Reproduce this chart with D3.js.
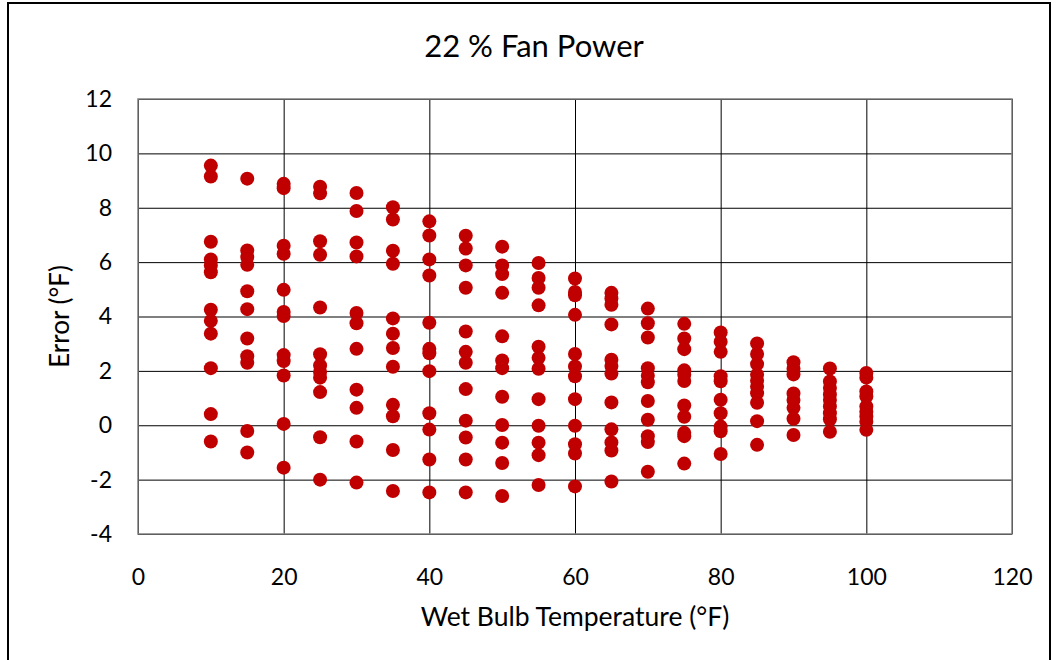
<!DOCTYPE html>
<html><head><meta charset="utf-8">
<script src="https://cdn.jsdelivr.net/npm/d3@7"></script>
<style>
body{margin:0;background:#fff}
text{font-family:Lato,"Open Sans",sans-serif;fill:#000}
</style>
</head><body>
<svg id="chart" width="1058" height="660"></svg>
<script>
const titleText = "22 % Fan Power";
const xLabel = "Wet Bulb Temperature (°F)";
const yLabel = "Error (°F)";
const xTicks = [0,20,40,60,80,100,120];
const yTicks = [-4,-2,0,2,4,6,8,10,12];

const temps = [10,15,20,25,30,35,40,45,50,55,60,65,70,75,80,85,90,95,100];
const err10 = [9.55,9.15,6.75,6.1,5.88,5.63,4.25,3.84,3.37,2.1,0.41,-0.6];
const err15 = [9.07,6.43,6.19,5.9,4.93,4.27,3.19,2.54,2.3,-0.21,-1.0];
const err20 = [8.88,8.72,6.6,6.31,4.98,4.17,4.02,2.58,2.36,1.83,0.05,-1.56];
const err25 = [8.77,8.53,6.77,6.27,4.33,2.61,2.2,1.96,1.75,1.22,-0.44,-2.0];
const err30 = [8.54,7.88,6.72,6.21,4.13,3.75,2.81,1.31,0.64,-0.6,-2.11];
const err35 = [8.02,7.57,6.42,5.94,3.93,3.37,2.84,2.15,0.75,0.33,-0.91,-2.42];
const err40 = [7.5,6.98,6.1,5.51,3.77,2.81,2.65,1.99,0.44,-0.16,-1.26,-2.47];
const err45 = [6.97,6.5,5.88,5.06,3.45,2.7,2.3,1.33,0.17,-0.45,-1.26,-2.47];
const err50 = [6.57,5.88,5.56,4.87,3.27,2.38,2.1,1.05,0.01,-0.64,-1.39,-2.6];
const err55 = [5.97,5.42,5.06,4.41,2.89,2.48,2.08,0.96,-0.02,-0.64,-1.1,-2.2];
const err60 = [5.4,4.9,4.78,4.06,2.62,2.16,1.8,0.96,-0.02,-0.7,-1.04,-2.25];
const err65 = [4.87,4.66,4.43,3.71,2.41,2.18,1.9,0.84,-0.15,-0.63,-0.93,-2.07];
const err70 = [4.29,3.75,3.23,2.1,1.82,1.58,0.89,0.2,-0.4,-0.62,-1.71];
const err75 = [3.73,3.19,2.8,2.02,1.86,1.63,0.73,0.31,-0.28,-0.4,-1.41];
const err80 = [3.41,3.07,2.7,1.8,1.62,0.94,0.44,-0.05,-0.22,-1.06];
const err85 = [3.01,2.62,2.25,1.86,1.64,1.42,1.18,0.83,0.15,-0.72];
const err90 = [2.32,2.08,1.87,1.17,0.93,0.64,0.24,-0.36];
const err95 = [2.09,1.61,1.37,1.13,0.93,0.69,0.44,0.22,-0.24];
const err100 = [1.92,1.75,1.24,1.06,0.69,0.5,0.32,0.13,-0.17];
const errorsByTemp = [err10,err15,err20,err25,err30,err35,err40,err45,err50,err55,err60,err65,err70,err75,err80,err85,err90,err95,err100];

const points = [];
temps.forEach((t,i)=>errorsByTemp[i].forEach(e=>points.push({t,e})));

const svg = d3.select("#chart");
const L=138,R=1012,T=99,B=534;
const x = d3.scaleLinear().domain([0,120]).range([L,R]);
const y = d3.scaleLinear().domain([-4,12]).range([B,T]);
const FONT = "Lato,'Open Sans',sans-serif";

// outer border
svg.append("rect").attr("x",8).attr("y",3).attr("width",1042).attr("height",680)
  .attr("fill","none").attr("stroke","#000").attr("stroke-width",2);

// grid + y labels
const gy = svg.append("g").attr("transform",`translate(${L},0)`)
  .call(d3.axisLeft(y).tickValues(yTicks).tickSize(-(R-L)).tickPadding(26).tickFormat(d=>String(d)));
gy.select(".domain").remove();
gy.selectAll("line").attr("stroke","#000").attr("stroke-width",1);
gy.selectAll("text").attr("font-size",23).style("font-family",FONT).attr("fill","#000");

const gx = svg.append("g").attr("transform",`translate(0,${B})`)
  .call(d3.axisBottom(x).tickValues(xTicks).tickSize(-(B-T)).tickPadding(35).tickFormat(d=>String(d)));
gx.select(".domain").remove();
gx.selectAll("line").attr("stroke","#000").attr("stroke-width",1);
gx.selectAll("text").attr("font-size",23).style("font-family",FONT).attr("fill","#000");

// plot area border
svg.append("rect").attr("x",L).attr("y",T).attr("width",R-L).attr("height",B-T)
  .attr("fill","none").attr("stroke","#7f7f7f").attr("stroke-width",1.5);

// points
svg.append("g").selectAll("circle").data(points).join("circle")
  .attr("cx",d=>x(d.t)).attr("cy",d=>y(d.e)).attr("r",7).attr("fill","#C00000");

// titles
svg.append("text").attr("x",534).attr("y",57).attr("text-anchor","middle").attr("font-size",31).text(titleText);
svg.append("text").attr("x",575).attr("y",626).attr("text-anchor","middle").attr("font-size",26.5).text(xLabel);
svg.append("text").attr("transform",`translate(69,${(T+B)/2}) rotate(-90)`).attr("text-anchor","middle").attr("font-size",26).text(yLabel);
</script>
</body></html>
